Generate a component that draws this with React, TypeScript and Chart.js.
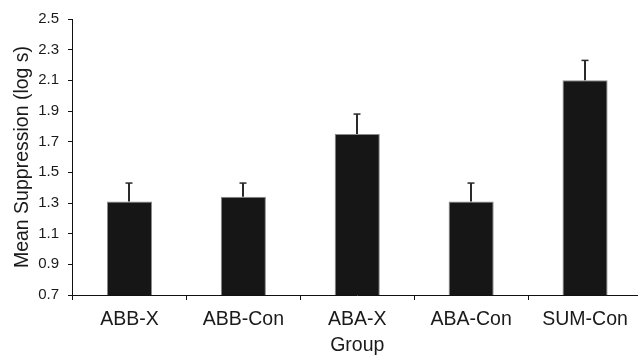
import React, { useEffect, useRef } from "react";
import { Chart, registerables } from "chart.js";

Chart.register(...registerables);

const categories = ["ABB-X", "ABB-Con", "ABA-X", "ABA-Con", "SUM-Con"];
const means = [1.31, 1.34, 1.75, 1.31, 2.1];
const errors = [0.12, 0.09, 0.13, 0.12, 0.13];
const yTicks = [0.7, 0.9, 1.1, 1.3, 1.5, 1.7, 1.9, 2.1, 2.3, 2.5];
const yTitle = "Mean Suppression (log s)";
const xTitle = "Group";

const FONT = "'Liberation Sans', Arial, Helvetica, sans-serif";

const errorBarPlugin = {
  id: "errorBars",
  afterDatasetsDraw(chart: any) {
    const ctx = chart.ctx;
    const meta = chart.getDatasetMeta(0);
    const yScale = chart.scales.y;
    ctx.save();
    ctx.strokeStyle = "#2a2a2a";
    meta.data.forEach((bar: any, i: number) => {
      const top = yScale.getPixelForValue(means[i] + errors[i]);
      const x = Math.round(bar.x);
      ctx.lineWidth = 2;
      ctx.beginPath();
      ctx.moveTo(x, bar.y);
      ctx.lineTo(x, top);
      ctx.stroke();
      ctx.lineWidth = 1.5;
      ctx.beginPath();
      ctx.moveTo(x - 3.5, top);
      ctx.lineTo(x + 3.5, top);
      ctx.stroke();
    });
    ctx.restore();
  },
};

export default function App() {
  const ref = useRef<HTMLCanvasElement | null>(null);

  useEffect(() => {
    if (!ref.current) return;
    const chart = new Chart(ref.current, {
      type: "bar",
      data: {
        labels: categories,
        datasets: [
          {
            data: means,
            backgroundColor: "#161616",
            borderColor: "#8a8a8a",
            borderWidth: { top: 1, left: 1, right: 1, bottom: 0 },
            categoryPercentage: 1,
            barPercentage: 0.396,
          },
        ],
      },
      options: {
        responsive: false,
        animation: false,
        devicePixelRatio: 1,
        layout: { padding: { top: 19, left: 0, right: 0, bottom: 0 } },
        plugins: { legend: { display: false }, tooltip: { enabled: false } },
        scales: {
          x: {
            grid: {
              offset: true,
              drawOnChartArea: false,
              drawTicks: true,
              tickLength: 5,
              color: "#111",
            },
            border: { display: true, color: "#111", width: 1 },
            ticks: {
              color: "#1a1a1a",
              padding: 8,
              font: { family: FONT, size: 19.5 },
              maxRotation: 0,
            },
            title: {
              display: true,
              text: xTitle,
              color: "#1a1a1a",
              font: { family: FONT, size: 19.5, lineHeight: 1 },
              padding: { top: 0, bottom: 0 },
            },
            afterFit: (scale: any) => {
              scale.height = 60;
            },
          },
          y: {
            min: 0.7,
            max: 2.5,
            afterBuildTicks: (scale: any) => {
              scale.ticks = yTicks.map((v) => ({ value: v }));
            },
            grid: {
              drawOnChartArea: false,
              drawTicks: true,
              tickLength: 4.5,
              color: "#111",
            },
            border: { display: true, color: "#111", width: 1 },
            ticks: {
              color: "#1a1a1a",
              padding: 9,
              font: { family: FONT, size: 15 },
              callback: (v: any) => Number(v).toFixed(1),
            },
            title: {
              display: true,
              text: yTitle,
              color: "#1a1a1a",
              font: { family: FONT, size: 19.5, lineHeight: 1 },
              padding: { top: 12.5, bottom: 0 },
            },
            afterFit: (scale: any) => {
              scale.width = 72.5;
            },
          },
        },
      },
      plugins: [errorBarPlugin],
    });
    return () => chart.destroy();
  }, []);

  return (
    <div
      style={{
        position: "fixed",
        left: 0,
        top: 0,
        width: 638,
        height: 355,
        overflow: "hidden",
        background: "#fff",
      }}
    >
      <canvas ref={ref} width={642} height={355} style={{ display: "block" }} />
    </div>
  );
}
